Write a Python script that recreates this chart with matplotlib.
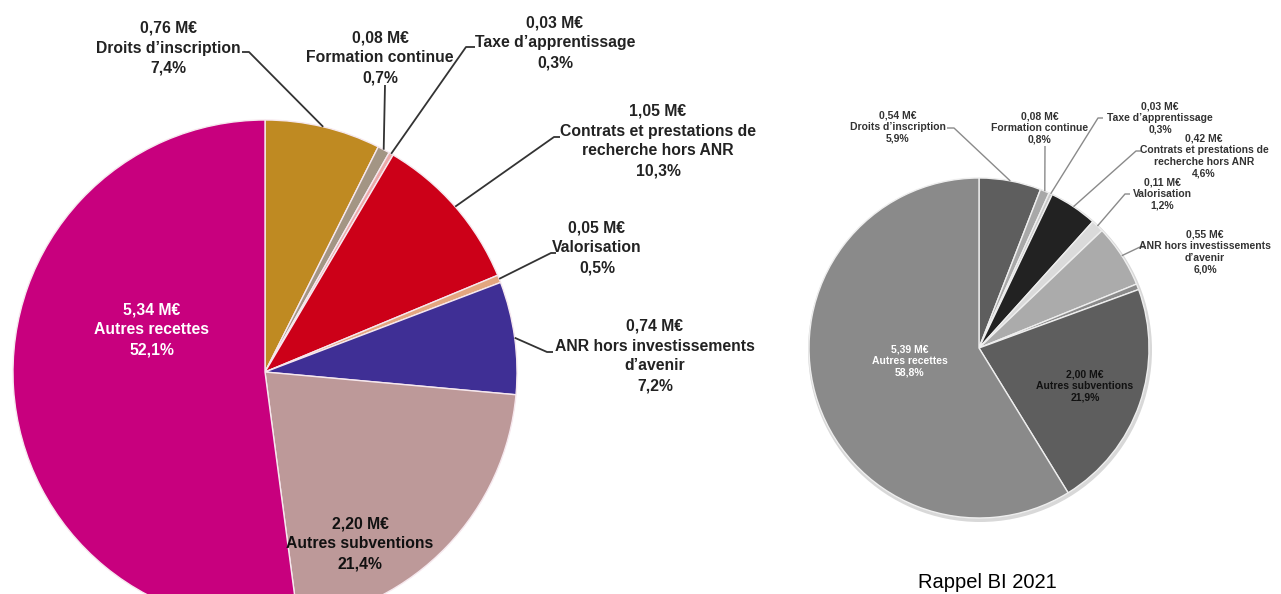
import numpy as np
import matplotlib
matplotlib.use("Agg")
import matplotlib.pyplot as plt
from matplotlib.patches import Circle

# ---------------- DATA ----------------
names_2022 = ["Droits d’inscription", "Formation continue", "Taxe d’apprentissage",
              "Contrats et prestations de\nrecherche hors ANR", "Valorisation",
              "ANR hors investissements\nd’avenir", "Autres subventions", "Autres recettes"]
values_2022 = [0.76, 0.08, 0.03, 1.05, 0.05, 0.74, 2.20, 5.34]
pcts_2022 = ["7,4%", "0,7%", "0,3%", "10,3%", "0,5%", "7,2%", "21,4%", "52,1%"]

names_2021 = ["Droits d’inscription", "Formation continue", "Taxe d’apprentissage",
              "Contrats et prestations de\nrecherche hors ANR", "Valorisation",
              "ANR hors investissements\nd’avenir", "", "Autres subventions", "Autres recettes"]
values_2021 = [0.54, 0.08, 0.03, 0.42, 0.11, 0.55, 0.05, 2.00, 5.39]
pcts_2021 = ["5,9%", "0,8%", "0,3%", "4,6%", "1,2%", "6,0%", "", "21,9%", "58,8%"]

subtitle_2021 = "Rappel BI 2021"

# ---------------- STYLE ----------------
colors_2022 = ["#BF8A22", "#A39584", "#EBA9A9", "#CC0018", "#E3A67F",
               "#3F2F95", "#BD9999", "#C8007E"]
colors_2021 = ["#5E5E5E", "#A8A8A8", "#C8C8C8", "#222222", "#DADADA",
               "#ABABAB", "#8A8A8A", "#5E5E5E", "#8A8A8A"]

W, H = 1281, 594
plt.rcParams["font.family"] = ["Liberation Sans", "DejaVu Sans"]
fig = plt.figure(figsize=(W / 100, H / 100), dpi=100)
ax = fig.add_axes([0, 0, 1, 1])

def P(x, y):
    """pixel (top-left origin) -> data"""
    return x, H - y

def label_text(v, name, pct):
    return f"{v:.2f}".replace(".", ",") + " M€\n" + name + "\n" + pct

def draw_pie(values, names, pcts, colors, center_px, radius, edge, layout,
             inside, fs, line_color, line_lw, text_color, ls):
    cx, cy = P(*center_px)
    wedges, _ = ax.pie(values, colors=colors, startangle=90, counterclock=False,
                       radius=radius, center=(cx, cy),
                       wedgeprops=dict(edgecolor=edge, linewidth=1.0))
    total = float(sum(values))
    cum = np.cumsum([0] + list(values))
    for i, (v, name, pct) in enumerate(zip(values, names, pcts)):
        if not name:
            continue
        txt = label_text(v, name, pct)
        if i in layout:
            tx, ty, pts = layout[i]
            mid = (cum[i] + v / 2) / total
            ang = np.deg2rad(90 - 360 * mid)
            rx, ry = cx + radius * np.cos(ang), cy + radius * np.sin(ang)
            xs = [P(*p)[0] for p in pts] + [rx]
            ys = [P(*p)[1] for p in pts] + [ry]
            ax.plot(xs, ys, color=line_color, lw=line_lw, solid_capstyle="butt", zorder=3)
            ax.text(*P(tx, ty), txt, ha="center", va="center", fontsize=fs,
                    fontweight="bold", color=text_color, linespacing=ls, zorder=4)
        elif i in inside:
            tx, ty, c = inside[i]
            ax.text(*P(tx, ty), txt, ha="center", va="center", fontsize=fs,
                    fontweight="bold", color=c, linespacing=ls, zorder=4)

# layout for 2022 (pixels): text centre, leader-line start points
layout_2022 = {
    0: (168, 48, [(242, 52), (249, 52)]),
    1: (380, 58, [(385, 85)]),
    2: (555, 43, [(475, 47), (466, 47)]),
    3: (658, 141, [(560, 137), (554, 137)]),
    4: (597, 248, [(556, 253), (551, 253)]),
    5: (655, 356, [(553, 352), (547, 352)]),
}
inside_2022 = {6: (360, 544, "#111111"), 7: (152, 330, "white")}

draw_pie(values_2022, names_2022, pcts_2022, colors_2022, (265, 372), 252,
         "#F6E8EE", layout_2022, inside_2022, 11.3, "#333333", 1.3, "#222222", 1.4)

# shadow for 2021 pie
ax.add_patch(Circle(P(980, 350), 172, facecolor="#D8D8D8", edgecolor="none", zorder=0))

layout_2021 = {
    0: (898, 127, [(947, 128), (954, 128)]),
    1: (1040, 128, [(1045, 146)]),
    2: (1160, 118, [(1103, 118), (1098, 118)]),
    3: (1204, 156, [(1141, 151), (1136, 151)]),
    4: (1162, 194, [(1130, 194), (1125, 194)]),
    5: (1205, 252, [(1146, 247), (1140, 247)]),
}
inside_2021 = {7: (1085, 386, "#111111"), 8: (910, 361, "white")}

draw_pie(values_2021, names_2021, pcts_2021, colors_2021, (979, 348), 170,
         "#EEEEEE", layout_2021, inside_2021, 7.5, "#8A8A8A", 1.0, "#333333", 1.2)

ax.text(*P(987, 583), subtitle_2021, ha="center", va="center", fontsize=14.5,
        color="black")

ax.set_xlim(0, W)
ax.set_ylim(0, H)
ax.set_aspect("equal")
ax.axis("off")
fig.savefig("out.png", dpi=100, facecolor="white")
